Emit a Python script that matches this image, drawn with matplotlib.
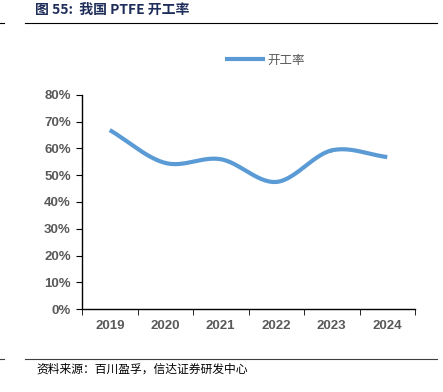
import numpy as np
import matplotlib.pyplot as plt
from matplotlib.ticker import PercentFormatter

plt.rcParams['font.family'] = ['Noto Sans CJK SC', 'DejaVu Sans']

# 数据
years = ["2019", "2020", "2021", "2022", "2023", "2024"]
rate = [66.9, 54.6, 56.0, 47.5, 59.3, 56.8]

line_color = "#5B9BD5"
navy = "#1F2D5A"


def catmull_rom(xs, ys, n=30):
    # 类似 Excel 平滑线
    xs = np.asarray(xs, float)
    ys = np.asarray(ys, float)
    px = np.concatenate([[2 * xs[0] - xs[1]], xs, [2 * xs[-1] - xs[-2]]])
    py = np.concatenate([[2 * ys[0] - ys[1]], ys, [2 * ys[-1] - ys[-2]]])
    out_x, out_y = [], []
    t = np.linspace(0, 1, n)
    for i in range(1, len(px) - 2):
        for p, out in ((px, out_x), (py, out_y)):
            p0, p1, p2, p3 = p[i - 1], p[i], p[i + 1], p[i + 2]
            out.extend(0.5 * ((2 * p1) + (-p0 + p2) * t
                              + (2 * p0 - 5 * p1 + 4 * p2 - p3) * t ** 2
                              + (-p0 + 3 * p1 - 3 * p2 + p3) * t ** 3))
    return np.array(out_x), np.array(out_y)


fig = plt.figure(figsize=(4.43, 3.92), dpi=100)
ax = fig.add_axes([82 / 443, 1 - 309 / 392, 333 / 443, 214 / 392])

x = np.arange(len(years))
sx, sy = catmull_rom(x, rate)
ax.plot(sx, sy, color=line_color, lw=3, solid_capstyle="butt", label="开工率")

ax.set_xlim(-0.5, len(years) - 0.5)
ax.set_ylim(0, 80)
ax.set_yticks(np.arange(0, 81, 10))
ax.yaxis.set_major_formatter(PercentFormatter(decimals=0))
ax.set_xticks(x)
ax.set_xticklabels(years)
ax.set_xticks(np.arange(-0.5, len(years)), minor=True)
ax.tick_params(axis="x", which="major", length=0, pad=8)
ax.tick_params(axis="x", which="minor", length=4, direction="out", color="black")
ax.tick_params(axis="y", length=4, direction="out", color="black", pad=4)
for lab in ax.get_xticklabels() + ax.get_yticklabels():
    lab.set_fontsize(9.5)
    lab.set_fontweight("bold")
    lab.set_color("#595959")
    lab.set_family(["Liberation Sans", "DejaVu Sans"])
for s in ["top", "right"]:
    ax.spines[s].set_visible(False)
for s in ["left", "bottom"]:
    ax.spines[s].set_color("black")
    ax.spines[s].set_linewidth(1)

leg = fig.legend(loc="center", bbox_to_anchor=(265 / 443, 1 - 60 / 392), frameon=False,
                 fontsize=9, handlelength=3.2, handletextpad=0.2)
for t in leg.get_texts():
    t.set_color("#595959")

# 标题与来源
fig.text(35 / 443, 1 - 10 / 392, "图 55:  我国 PTFE 开工率", fontsize=10, fontweight="bold",
         color=navy, va="center", ha="left")
fig.add_artist(plt.Line2D([25 / 443, 437 / 443], [1 - 23 / 392] * 2, color="black", lw=0.8))
fig.add_artist(plt.Line2D([0, 4 / 443], [1 - 23 / 392] * 2, color="black", lw=0.8))
fig.add_artist(plt.Line2D([25 / 443, 437 / 443], [1 - 359 / 392] * 2, color="#404040", lw=0.8))
fig.add_artist(plt.Line2D([0, 4 / 443], [1 - 359 / 392] * 2, color="#404040", lw=0.8))
fig.text(36 / 443, 1 - 369 / 392, "资料来源：百川盈孚，信达证券研发中心", fontsize=8.5,
         style="italic", color="black", va="center", ha="left")

fig.savefig("out.png", dpi=100)
